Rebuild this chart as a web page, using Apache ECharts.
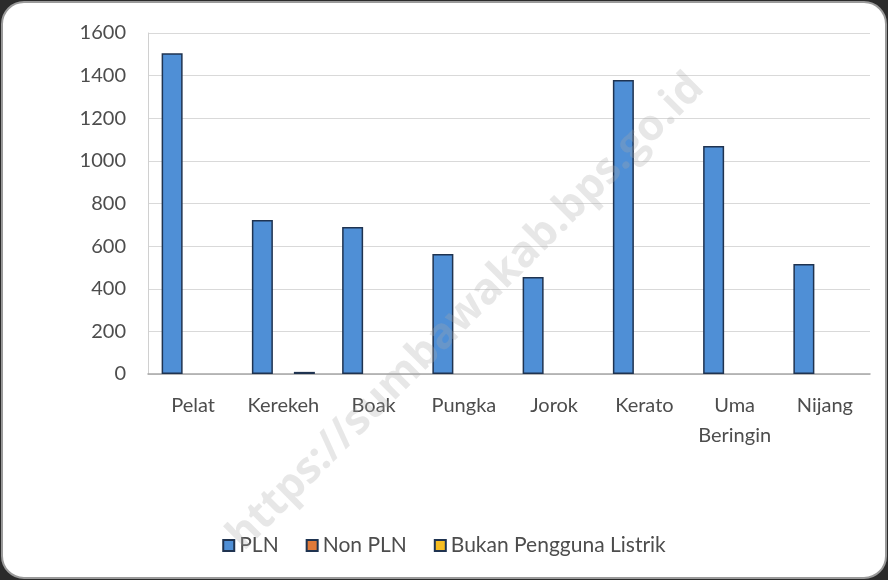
<!DOCTYPE html>
<html>
<head>
<meta charset="utf-8">
<script src="https://cdn.jsdelivr.net/npm/echarts@6/dist/echarts.min.js"></script>
<style>
  html, body { margin: 0; padding: 0; background: #2b2b2b; }
  #chart { width: 888px; height: 580px; }
</style>
</head>
<body>
<div id="chart"></div>
<script>
// desa / kelurahan
const categories = ['Pelat', 'Kerekeh', 'Boak', 'Pungka', 'Jorok', 'Kerato', 'Uma\nBeringin', 'Nijang'];
const pln = [1505, 723, 690, 563, 455, 1380, 1070, 516];
const nonPln = [0, 0, 0, 0, 0, 0, 0, 0];
const bukanPengguna = [0, 10, 0, 0, 0, 0, 0, 0];
const yTicks = { min: 0, max: 1600, interval: 200 };

const chart = echarts.init(document.getElementById('chart'));
const textColor = '#4d4d4d';
const font = 'Lato, "Open Sans", sans-serif';

// zero values are not drawn in the original, so hide them
const barSeries = (name, data, color) => ({
  name: name,
  type: 'bar',
  data: data.map(v => (v === 0 ? null : v)),
  barWidth: 21,
  barGap: '0%',
  itemStyle: { color: color, borderColor: '#1f3350', borderWidth: 1.5 },
});

chart.setOption({
  backgroundColor: 'transparent',
  animation: false,
  textStyle: { fontFamily: font },
  graphic: [
    {
      type: 'rect',
      z: -10,
      shape: { x: 2, y: 2, width: 884, height: 576, r: 22 },
      style: { fill: '#fff', stroke: '#9a9a9a', lineWidth: 2 },
    },
    {
      type: 'text',
      z: 100,
      x: 466,
      y: 312,
      rotation: Math.PI / 4,
      style: {
        text: 'https://sumbawakab.bps.go.id',
        fill: 'rgba(170,170,170,0.28)',
        font: 'bold 43px "Open Sans", sans-serif',
        align: 'center',
        verticalAlign: 'middle',
      },
    },
  ],
  grid: { left: 148, right: 18, top: 33, bottom: 206 },
  legend: {
    bottom: 19,
    left: 'center',
    itemWidth: 11,
    itemHeight: 11,
    itemGap: 27,
    icon: 'rect',
    textStyle: { color: textColor, fontSize: 21, fontFamily: font },
    data: ['PLN', 'Non PLN', 'Bukan Pengguna Listrik'],
  },
  xAxis: {
    type: 'category',
    data: categories,
    axisLine: { lineStyle: { color: '#a6a6a6', width: 1.5 } },
    axisTick: { show: false },
    axisLabel: { color: textColor, fontSize: 20, margin: 17, lineHeight: 30, interval: 0 },
  },
  yAxis: {
    type: 'value',
    min: yTicks.min,
    max: yTicks.max,
    interval: yTicks.interval,
    axisLine: { show: true, lineStyle: { color: '#d0d0d0' } },
    axisTick: { show: false },
    axisLabel: { color: textColor, fontSize: 20, margin: 22, formatter: v => String(v) },
    splitLine: { lineStyle: { color: '#d9d9d9', width: 1.2 } },
  },
  series: [
    barSeries('PLN', pln, '#4f8fd6'),
    barSeries('Non PLN', nonPln, '#e07a3a'),
    barSeries('Bukan Pengguna Listrik', bukanPengguna, '#f6bd22'),
  ],
});
</script>
</body>
</html>
